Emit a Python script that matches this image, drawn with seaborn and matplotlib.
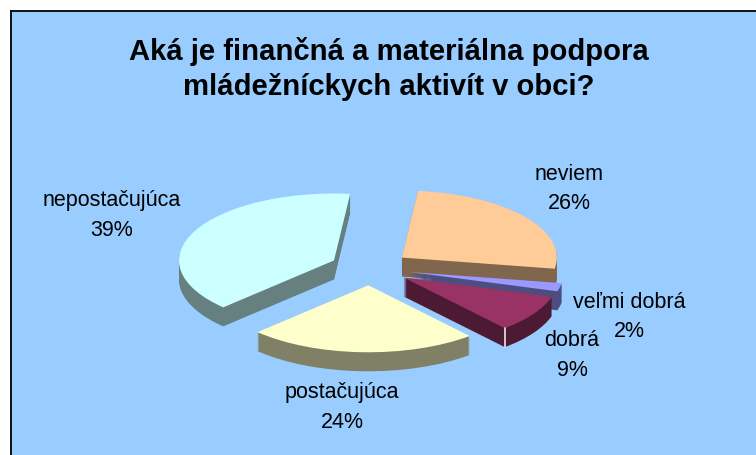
import matplotlib
matplotlib.use("Agg")
import matplotlib.pyplot as plt
import numpy as np
import seaborn as sns

labels = ["neviem", "veľmi dobrá", "dobrá", "postačujúca", "nepostačujúca"]
values = [26, 2, 9, 24, 39]
title = "Aká je finančná a materiálna podpora\nmládežníckych aktivít v obci?"

sns.set_theme(style="white")
plt.rcParams["font.family"] = ["Liberation Sans", "DejaVu Sans"]

W, H = 756, 455
top_colors = sns.color_palette(["#FFCC99", "#9999FF", "#993366", "#FFFFCC", "#CCFFFF"])
wall_colors = [tuple(c * 0.5 for c in col) for col in top_colors]

# pie layout in pixels of the picture
left, top = 11, 11
cx, cy = 370, 268
rx, ry = 155, 67
depth = 19
start = 84
explode = [0.258] * len(values)

fig = plt.figure(figsize=(W / 100, H / 100), dpi=100, facecolor="white")
ax = fig.add_axes([left / W, 0, (W - left) / W, (H - top) / H])


def draw_pie(dy, colors, zshift):
    wedges, _ = ax.pie(values, explode=explode, colors=colors, startangle=start,
                       counterclock=False, center=(0, -dy / ry), radius=1,
                       wedgeprops={"linewidth": 0})
    # slices go back to front so the front ones cover the walls behind
    for i, w in enumerate(wedges):
        w.set_zorder(i + zshift)


for k in range(depth, 0, -1):
    draw_pie(k, wall_colors, 1 + (depth - k) / (depth + 1))
draw_pie(0, top_colors, 1.99)

# light corner on the wall of the dobrá slice
ends = start - 3.6 * np.cumsum(values)
mid = np.radians(ends[2] + 1.8 * values[2])
end = np.radians(ends[2])
x0 = explode[2] * np.cos(mid) + np.cos(end)
y0 = explode[2] * np.sin(mid) + np.sin(end)
ax.plot([x0, x0], [y0, y0 - depth / ry], color="#E8E8F0", lw=1.2, zorder=3.995)

ax.set_aspect("auto")
ax.set_xlim((left - cx) / rx, (W - cx) / rx)
ax.set_ylim((cy - H) / ry, (cy - top) / ry)
ax.set_facecolor("#99CCFF")
ax.set_frame_on(True)
for side in ["right", "bottom"]:
    ax.spines[side].set_visible(False)
for side in ["left", "top"]:
    ax.spines[side].set_visible(True)
    ax.spines[side].set_color("black")
    ax.spines[side].set_linewidth(1.3)

fig.text(389 / W, 1 - 69 / H, title, ha="center", va="center", fontsize=21.1,
         fontweight="bold", color="black", linespacing=1.36)

# name and percent are separate texts, baselines in pixels
label_xy = [(569, 180, 209), (629, 308, 337), (572, 346, 376), (342, 398, 428), (112, 206, 236)]
for name, val, (x, y1, y2) in zip(labels, values, label_xy):
    fig.text(x / W, 1 - y1 / H, name, ha="center", va="baseline", fontsize=15.5, color="black")
    fig.text(x / W, 1 - y2 / H, f"{val}%", ha="center", va="baseline", fontsize=15.5, color="black")

fig.savefig("out.png", dpi=100, facecolor="white")
